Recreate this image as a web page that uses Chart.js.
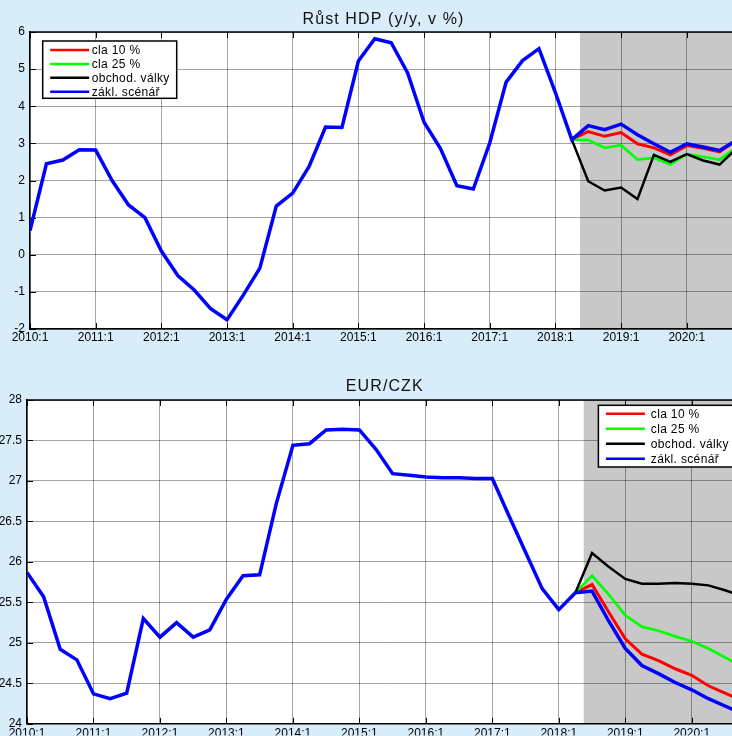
<!DOCTYPE html>
<html>
<head>
<meta charset="utf-8">
<title>Růst HDP a EUR/CZK – scénáře</title>
<script src="https://cdn.jsdelivr.net/npm/chart.js@4.4.1/dist/chart.umd.min.js"></script>
<style>
  html, body { margin: 0; padding: 0; }
  body { width: 732px; height: 736px; overflow: hidden; background: #d9ecf9; position: relative; }
  canvas { position: absolute; left: 0; }
  #gdp { top: 0; }
  #fx { top: 350px; }
</style>
</head>
<body>
<canvas id="gdp" width="760" height="350"></canvas>
<canvas id="fx" width="760" height="386"></canvas>
<script>
// Quarters on the horizontal axis (index 0 = 2010:1)
const quarters = [
  '2010:1','2010:2','2010:3','2010:4','2011:1','2011:2','2011:3','2011:4',
  '2012:1','2012:2','2012:3','2012:4','2013:1','2013:2','2013:3','2013:4',
  '2014:1','2014:2','2014:3','2014:4','2015:1','2015:2','2015:3','2015:4',
  '2016:1','2016:2','2016:3','2016:4','2017:1','2017:2','2017:3','2017:4',
  '2018:1','2018:2','2018:3','2018:4','2019:1','2019:2','2019:3','2019:4',
  '2020:1','2020:2','2020:3','2020:4'
];

// Scenario names and colours (legend order)
const scenarioNames  = ['cla 10 %', 'cla 25 %', 'obchod. války', 'zákl. scénář'];
const scenarioColors = ['#ff0000', '#00ff00', '#000000', '#0000ff'];

// Forecast period begins between 2018:2 and 2018:3 (shaded)
const forecastFrom = 33.5;
// Scenarios branch off from 2018:2
const branchIndex = 33;

// GDP growth, y/y in %
const gdpBaseline = [
  0.65, 2.45, 2.55, 2.83, 2.82, 2.00, 1.34, 1.00,
  0.10, -0.56, -0.95, -1.45, -1.75, -1.08, -0.36, 1.31,
  1.66, 2.38, 3.44, 3.43, 5.22, 5.82, 5.71, 4.90,
  3.57, 2.86, 1.86, 1.77, 3.01, 4.65, 5.23, 5.55,
  4.37, 3.10, 3.48, 3.37, 3.52, 3.23, 2.99, 2.76,
  2.99, 2.90, 2.81, 3.08
];
// scenario paths from 2018:2 onwards
const gdpTariff10 = [3.10, 3.32, 3.19, 3.29, 2.99, 2.88, 2.69, 2.94, 2.87, 2.77, 3.07];
const gdpTariff25 = [3.10, 3.09, 2.88, 2.95, 2.56, 2.61, 2.43, 2.71, 2.64, 2.56, 2.88];
const gdpTradeWar = [3.10, 1.98, 1.73, 1.81, 1.50, 2.69, 2.50, 2.71, 2.54, 2.43, 2.85];

// EUR/CZK exchange rate
const fxBaseline = [
  25.87, 25.57, 24.92, 24.79, 24.37, 24.31, 24.38, 25.30,
  25.07, 25.25, 25.07, 25.16, 25.54, 25.83, 25.84, 26.72,
  27.44, 27.46, 27.63, 27.64, 27.63, 27.39, 27.09, 27.07,
  27.05, 27.04, 27.04, 27.03, 27.03, 26.57, 26.12, 25.67,
  25.41, 25.62, 25.64, 25.27, 24.93, 24.72, 24.62, 24.51,
  24.42, 24.31, 24.22, 24.13
];
const fxTariff10 = [25.62, 25.72, 25.38, 25.05, 24.86, 24.78, 24.68, 24.60, 24.47, 24.38, 24.29];
const fxTariff25 = [25.62, 25.83, 25.60, 25.34, 25.20, 25.15, 25.08, 25.02, 24.93, 24.82, 24.71];
const fxTradeWar = [25.62, 26.11, 25.94, 25.79, 25.73, 25.73, 25.74, 25.73, 25.71, 25.65, 25.58];

// Vertical axis ranges
const gdpAxis = { min: -2, max: 6, step: 1 };
const fxAxis  = { min: 24, max: 28, step: 0.5 };

const FONT = '"Liberation Sans", Arial, Helvetica, sans-serif';

function points(values, start) {
  return values.map((v, i) => ({ x: start + i, y: v }));
}

// Plot frame: white plot area, shaded forecast band, inward ticks, top edge,
// title and the in-plot legend.
const framePlugin = {
  id: 'frame',
  beforeDraw(chart, args, o) {
    const { ctx, chartArea: a, scales: { x } } = chart;
    ctx.save();
    ctx.fillStyle = '#ffffff';
    ctx.fillRect(a.left, a.top, a.right - a.left, a.bottom - a.top);
    const xs = x.getPixelForValue(o.shadeFrom);
    ctx.fillStyle = '#c8c8c8';
    ctx.fillRect(xs, a.top, a.right - xs, a.bottom - a.top);
    ctx.restore();
  },
  beforeDatasetsDraw(chart) {
    const { ctx, chartArea: a, scales: { x, y } } = chart;
    ctx.save();
    ctx.strokeStyle = '#000';
    ctx.lineWidth = 1;
    ctx.beginPath();
    x.ticks.forEach(t => {
      const px = Math.round(x.getPixelForValue(t.value)) + 0.5;
      ctx.moveTo(px, a.bottom); ctx.lineTo(px, a.bottom - 6);
      ctx.moveTo(px, a.top); ctx.lineTo(px, a.top + 6);
    });
    y.ticks.forEach(t => {
      const py = Math.round(y.getPixelForValue(t.value)) + 0.5;
      ctx.moveTo(a.left, py); ctx.lineTo(a.left + 6, py);
    });
    ctx.stroke();
    ctx.lineWidth = 1.5;
    ctx.beginPath();
    ctx.moveTo(a.left, a.top); ctx.lineTo(a.right, a.top);
    ctx.stroke();
    ctx.restore();
  },
  afterDraw(chart, args, o) {
    const { ctx, chartArea: a } = chart;
    ctx.save();
    // title
    ctx.font = '16px ' + FONT;
    if ('letterSpacing' in ctx) ctx.letterSpacing = '1.1px';
    ctx.fillStyle = '#111';
    ctx.textAlign = 'center';
    ctx.textBaseline = 'alphabetic';
    ctx.fillText(o.title, (a.left + a.right) / 2 + 0.5, o.titleY);

    // legend
    const L = o.legend;
    const bx = L.right !== undefined ? a.right - L.right - L.width : a.left + L.left;
    const by = a.top + L.top;
    ctx.fillStyle = '#fff';
    ctx.fillRect(bx, by, L.width, L.height);
    ctx.strokeStyle = '#000';
    ctx.lineWidth = 1.5;
    ctx.strokeRect(bx, by, L.width, L.height);
    ctx.font = '12px ' + FONT;
    if ('letterSpacing' in ctx) ctx.letterSpacing = '0.35px';
    ctx.textAlign = 'left';
    ctx.textBaseline = 'middle';
    chart.data.datasets.forEach((ds, i) => {
      const cy = by + L.first + i * L.row;
      ctx.strokeStyle = ds.borderColor;
      ctx.lineWidth = 2.5;
      ctx.beginPath();
      ctx.moveTo(bx + 7.5, cy); ctx.lineTo(bx + 46.5, cy);
      ctx.stroke();
      ctx.fillStyle = '#000';
      ctx.fillText(ds.label, bx + L.textX, cy + 0.5);
    });
    ctx.restore();
  }
};

function makeChart(id, cfg) {
  const scenarios = [cfg.tariff10, cfg.tariff25, cfg.tradeWar];
  const datasets = scenarios.map((vals, i) => ({
    label: scenarioNames[i],
    data: points(vals, branchIndex),
    borderColor: scenarioColors[i],
    borderWidth: [3, 2.7, 2.5][i],
    order: 3 - i
  }));
  datasets.push({
    label: scenarioNames[3],
    data: points(cfg.baseline, 0),
    borderColor: scenarioColors[3],
    borderWidth: 3.5,
    order: 0
  });
  datasets.forEach(d => Object.assign(d, { pointRadius: 0, tension: 0, fill: false }));

  const gridColor = 'rgba(0,0,0,0.36)';
  return new Chart(document.getElementById(id), {
    type: 'line',
    data: { datasets },
    plugins: [framePlugin],
    options: {
      responsive: false,
      animation: false,
      events: [],
      layout: { padding: { top: cfg.padTop, right: cfg.padRight, left: 0, bottom: 0 } },
      plugins: {
        legend: { display: false },
        tooltip: { enabled: false },
        frame: { title: cfg.title, titleY: cfg.titleY, shadeFrom: forecastFrom, legend: cfg.legend }
      },
      scales: {
        x: {
          type: 'linear',
          min: 0,
          max: quarters.length - 1,
          afterBuildTicks: s => { s.ticks = s.ticks.filter(t => t.value % 4 === 0); },
          afterFit: s => { s.height = cfg.xHeight; },
          ticks: {
            stepSize: 4, autoSkip: false, maxRotation: 0, minRotation: 0,
            padding: cfg.xPad, color: '#000',
            font: { family: FONT, size: 12 },
            callback: v => quarters[v]
          },
          grid: { color: gridColor, lineWidth: 1, drawTicks: false },
          border: { display: true, color: '#000', width: 1.5 }
        },
        y: {
          type: 'linear',
          min: cfg.axis.min,
          max: cfg.axis.max,
          afterFit: s => { s.width = cfg.yWidth; },
          ticks: {
            stepSize: cfg.axis.step, padding: 5, color: '#000',
            font: { family: FONT, size: 12 },
            callback: v => String(v)
          },
          grid: { color: gridColor, lineWidth: 1, drawTicks: false },
          border: { display: true, color: '#000', width: 1.5 }
        }
      }
    }
  });
}

makeChart('gdp', {
  title: 'Růst HDP (y/y, v %)',
  titleY: 24,
  baseline: gdpBaseline, tariff10: gdpTariff10, tariff25: gdpTariff25, tradeWar: gdpTradeWar,
  axis: gdpAxis,
  padTop: 32, padRight: 24, yWidth: 30, xHeight: 21, xPad: 1,
  legend: { left: 12.7, top: 9, width: 134, height: 57.3, first: 9, row: 13.9, textX: 49 }
});

makeChart('fx', {
  title: 'EUR/CZK',
  titleY: 41,
  baseline: fxBaseline, tariff10: fxTariff10, tariff25: fxTariff25, tradeWar: fxTradeWar,
  axis: fxAxis,
  padTop: 50, padRight: 18.4, yWidth: 27, xHeight: 11.7, xPad: 3,
  legend: { right: 5.5, top: 5.3, width: 137.7, height: 61.7, first: 8.5, row: 15, textX: 52.4 }
});
</script>
</body>
</html>
